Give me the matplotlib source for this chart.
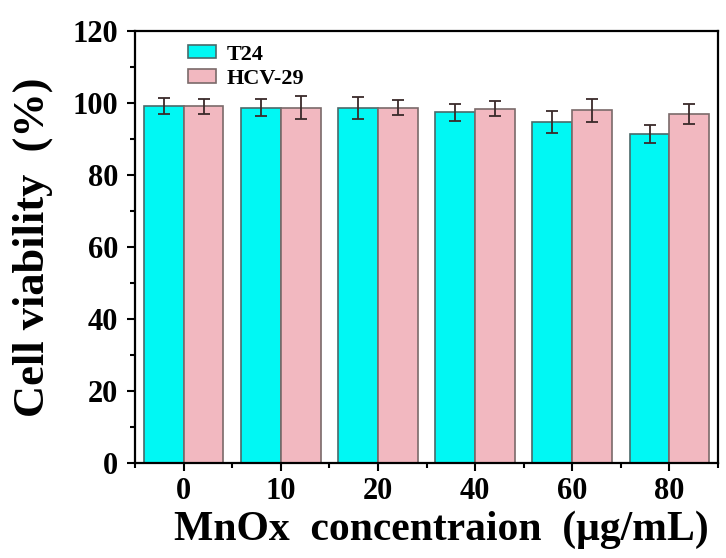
import numpy as np
import matplotlib
matplotlib.use('Agg')
import matplotlib.pyplot as plt
from matplotlib.ticker import MultipleLocator

concentrations = ['0', '10', '20', '40', '60', '80']
t24 = [99.2, 98.8, 98.7, 97.5, 94.8, 91.4]
t24_err = [2.2, 2.4, 3.0, 2.3, 3.0, 2.5]
hcv29 = [99.1, 98.8, 98.8, 98.5, 98.1, 97.1]
hcv29_err = [2.0, 3.3, 2.0, 2.0, 3.2, 2.8]

plt.rcParams['font.family'] = ['Liberation Serif', 'DejaVu Serif']
plt.rcParams['font.weight'] = 'bold'

fig = plt.figure(figsize=(7.26, 5.58), dpi=100)
ax = fig.add_axes([0.186, 0.170, 0.803, 0.774])

x = np.arange(len(concentrations))
w = 0.41
err_kw = dict(ecolor='#3a2a2a', elinewidth=1.3, capsize=4, capthick=1.3)
ax.bar(x - w / 2, t24, w, yerr=t24_err, color='#00F8F4', edgecolor='#4a6a6a',
       linewidth=1.2, label='T24', error_kw=err_kw)
ax.bar(x + w / 2, hcv29, w, yerr=hcv29_err, color='#F2B8C0', edgecolor='#7a6a6a',
       linewidth=1.2, label='HCV-29', error_kw=err_kw)

ax.set_xlim(-0.5, 5.5)
ax.set_ylim(0, 120)
ax.set_xticks(x)
ax.set_xticklabels(concentrations)
ax.xaxis.set_minor_locator(MultipleLocator(1, offset=0.5))
ax.yaxis.set_major_locator(MultipleLocator(20))
ax.yaxis.set_minor_locator(MultipleLocator(10))
ax.tick_params(axis='both', which='major', labelsize=22, length=6, width=1.5, direction='out')
ax.tick_params(axis='both', which='minor', length=3.5, width=1.5, direction='out')
ax.tick_params(axis='x', which='major', pad=4)
ax.tick_params(axis='y', which='major', pad=6)
for s in ax.spines.values():
    s.set_linewidth(1.6)

ax.set_ylabel('Cell viability  (%)', fontsize=32, fontweight='bold')
ax.yaxis.set_label_coords(-0.14, 0.5)
ax.set_xlabel('MnOx  concentraion  (μg/mL)', fontsize=30, fontweight='bold')
ax.xaxis.set_label_coords(0.525, -0.11)

ax.legend(loc='upper left', bbox_to_anchor=(0.068, 1.0), frameon=False, fontsize=16,
          handlelength=1.25, handleheight=0.55, handletextpad=0.5, labelspacing=0.2,
          borderaxespad=0.2)

fig.savefig('out.png', dpi=100)
